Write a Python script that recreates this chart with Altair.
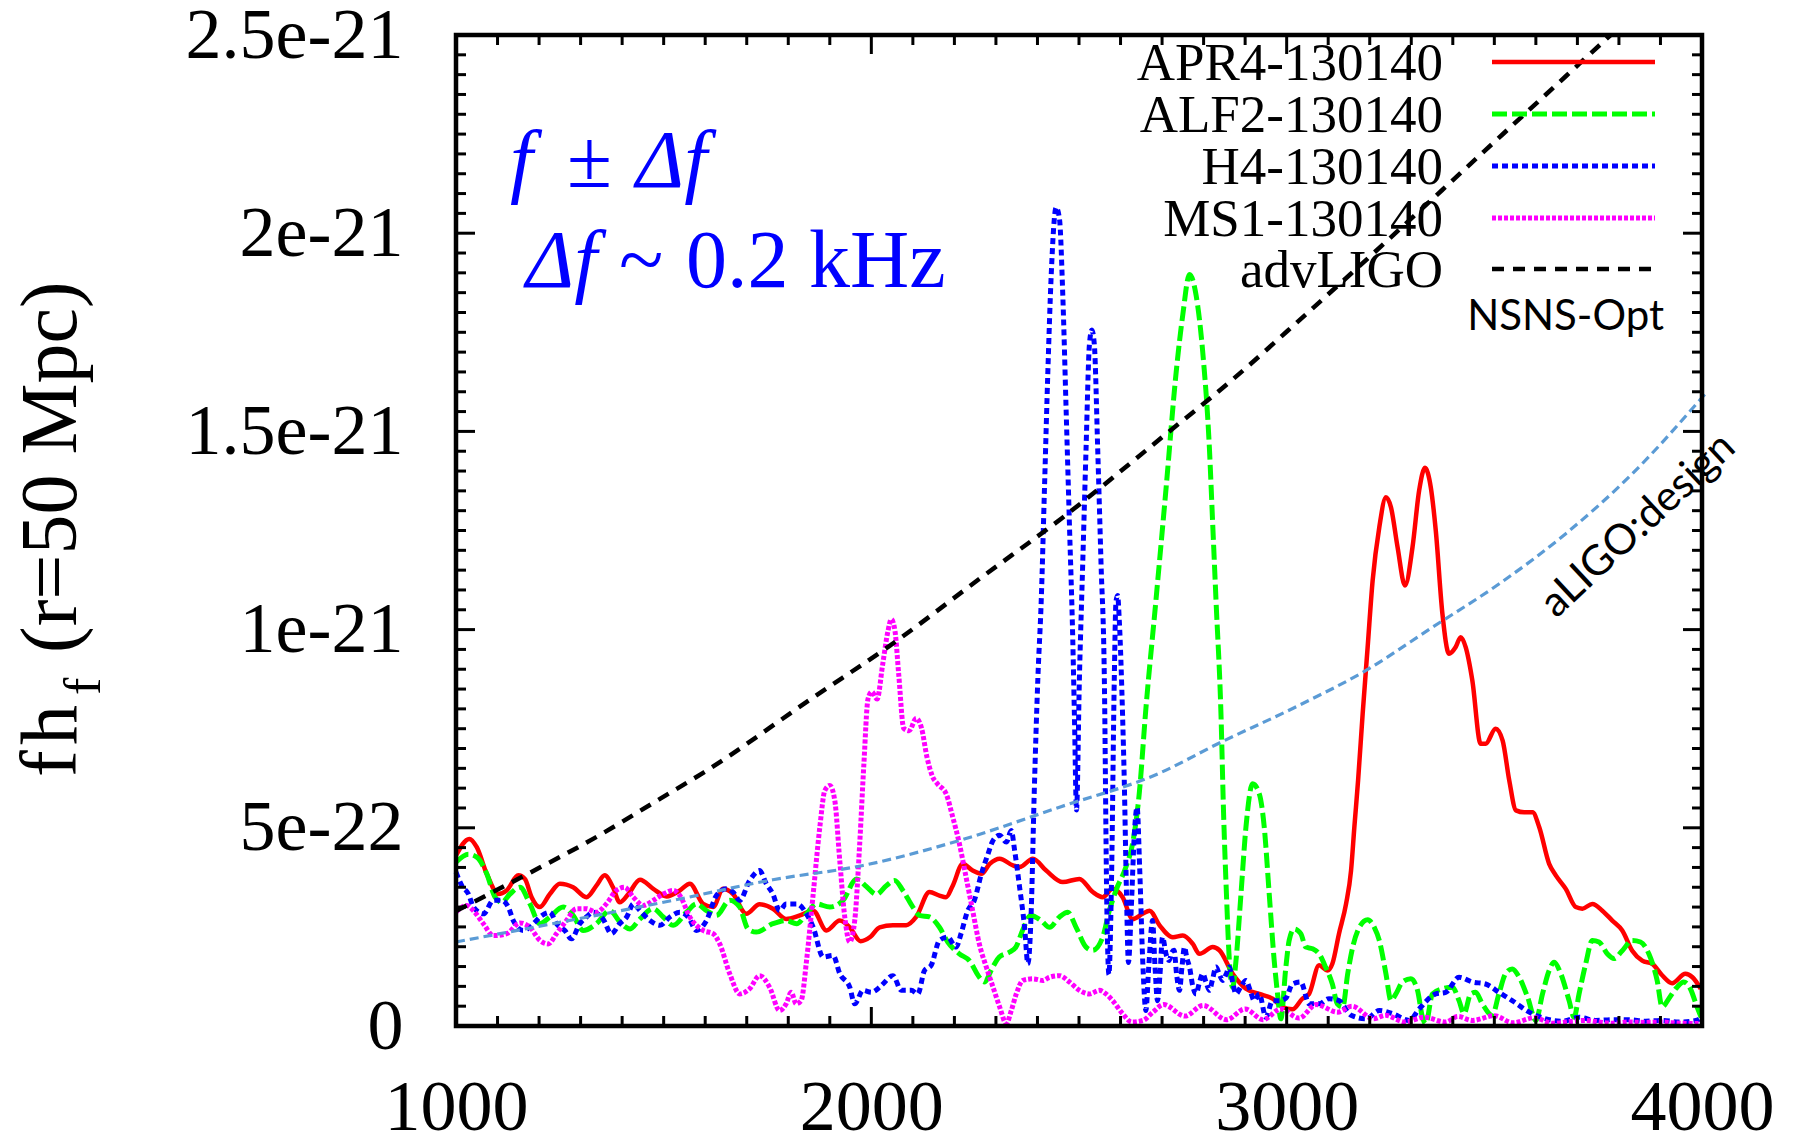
import altair as alt
import pandas as pd

# ---------------- data (strain values in units of 1e-22) ----------------
X_TICKS = [1000, 2000, 3000, 4000]
Y_TICKS = [0, 5, 10, 15, 20, 25]
Y_TICK_LABELS = ["0", "5e-22", "1e-21", "1.5e-21", "2e-21", "2.5e-21"]

APR4_F = [1000, 1032, 1050, 1074, 1102, 1122, 1150, 1166, 1182, 1202, 1226, 1250, 1282, 1314, 1338, 1358,
          1378, 1394, 1415, 1443, 1475, 1507, 1539, 1563, 1595, 1619, 1643, 1667, 1699, 1731, 1763, 1795,
          1828, 1860, 1892, 1924, 1948, 1974, 1998, 2020, 2052, 2084, 2108, 2140, 2164, 2180, 2196, 2220,
          2244, 2265, 2285, 2309, 2341, 2357, 2389, 2421, 2461, 2501, 2533, 2557, 2581, 2605, 2629, 2653,
          2670, 2694, 2726, 2750, 2774, 2790, 2822, 2838, 2870, 2902, 2934, 2966, 2990, 3014, 3038, 3054,
          3078, 3098, 3110, 3126, 3143, 3155, 3163, 3172, 3183, 3195, 3207, 3223, 3239, 3251, 3267, 3285,
          3303, 3319, 3333, 3347, 3359, 3375, 3391, 3407, 3419, 3431, 3447, 3467, 3479, 3503, 3520, 3536,
          3552, 3572, 3592, 3608, 3632, 3648, 3672, 3696, 3712, 3736, 3760, 3784, 3808, 3832, 3856, 3880,
          3904, 3928, 3960, 3977, 3997]
APR4_V = [4.30, 4.72, 4.51, 3.84, 3.33, 3.42, 3.80, 3.71, 3.25, 3.00, 3.33, 3.59, 3.50, 3.25, 3.54, 3.80,
          3.50, 3.12, 3.33, 3.69, 3.46, 3.27, 3.42, 3.59, 3.08, 3.00, 3.46, 3.33, 2.83, 3.07, 2.96, 2.70,
          2.79, 2.91, 2.41, 2.66, 2.49, 2.14, 2.25, 2.49, 2.54, 2.54, 2.75, 3.38, 3.29, 3.25, 3.54, 4.09,
          3.92, 3.84, 4.09, 4.22, 4.05, 4.01, 4.22, 3.92, 3.63, 3.71, 3.38, 3.25, 3.46, 3.25, 2.70, 2.83,
          2.91, 2.54, 2.24, 2.28, 2.07, 1.82, 1.99, 1.91, 1.32, 0.94, 0.81, 0.69, 0.48, 0.42, 0.69, 0.81,
          1.53, 1.40, 1.57, 2.33, 3.08, 3.92, 5.02, 6.20, 7.88, 9.56, 11.24, 12.58, 13.34, 13.09, 12.08, 11.11,
          12.08, 13.51, 14.08, 13.59, 12.50, 10.40, 9.39, 9.56, 9.81, 9.56, 8.72, 7.12, 7.12, 7.50, 7.20, 6.19,
          5.44, 5.39, 5.39, 5.02, 4.09, 3.80, 3.46, 3.00, 2.96, 3.08, 2.91, 2.66, 2.41, 1.90, 1.65, 1.57,
          1.28, 1.08, 1.32, 1.23, 0.94]

ALF2_F = [1000, 1030, 1050, 1074, 1094, 1110, 1130, 1154, 1178, 1202, 1226, 1258, 1282, 1306, 1338, 1370,
          1398, 1419, 1443, 1475, 1499, 1523, 1555, 1579, 1603, 1627, 1659, 1683, 1703, 1723, 1763, 1795,
          1820, 1844, 1868, 1900, 1932, 1964, 1988, 2012, 2036, 2056, 2076, 2100, 2116, 2140, 2164, 2184,
          2212, 2236, 2260, 2272, 2292, 2308, 2332, 2348, 2364, 2384, 2409, 2429, 2453, 2473, 2493, 2517,
          2533, 2557, 2573, 2589, 2613, 2629, 2645, 2661, 2685, 2710, 2734, 2750, 2766, 2782, 2798, 2814,
          2822, 2830, 2842, 2848, 2855, 2862, 2870, 2878, 2890, 2902, 2918, 2934, 2946, 2958, 2970, 2978,
          2986, 2998, 3006, 3018, 3034, 3046, 3062, 3078, 3094, 3110, 3122, 3135, 3147, 3159, 3175, 3195,
          3211, 3223, 3239, 3251, 3263, 3279, 3299, 3315, 3327, 3335, 3351, 3375, 3399, 3415, 3427, 3443,
          3455, 3471, 3495, 3511, 3527, 3543, 3560, 3580, 3600, 3616, 3632, 3644, 3660, 3680, 3692, 3704,
          3720, 3736, 3752, 3772, 3788, 3808, 3832, 3852, 3872, 3892, 3904, 3920, 3940, 3956, 3972, 3988,
          3998]
ALF2_V = [4.13, 4.33, 4.26, 3.84, 3.25, 3.12, 3.33, 3.50, 3.08, 2.58, 2.75, 3.00, 2.79, 2.41, 2.58, 2.91,
          2.58, 2.45, 2.70, 2.96, 2.75, 2.54, 2.87, 3.08, 2.91, 2.79, 3.17, 3.00, 2.45, 2.37, 2.58, 2.66,
          2.58, 2.83, 3.08, 3.00, 3.17, 3.71, 3.52, 3.32, 3.54, 3.67, 3.42, 3.00, 2.79, 2.75, 2.49, 2.12,
          1.82, 1.65, 1.23, 1.11, 1.48, 1.74, 1.86, 1.99, 2.41, 2.79, 2.66, 2.49, 2.75, 2.87, 2.49, 1.99,
          1.91, 2.24, 2.91, 3.42, 4.01, 4.60, 5.86, 8.00, 10.71, 13.61, 16.50, 17.95, 18.96, 18.43, 16.99, 14.57,
          12.64, 10.71, 7.81, 5.40, 3.33, 1.65, 0.98, 1.65, 3.33, 5.02, 6.11, 5.86, 5.02, 3.33, 1.65, 0.81,
          0.18, 1.48, 2.16, 2.45, 2.33, 1.99, 1.95, 1.82, 1.48, 1.06, 0.56, 0.48, 1.32, 1.99, 2.49, 2.68,
          2.49, 2.16, 1.32, 0.64, 0.81, 1.11, 1.19, 0.90, 0.22, 0.06, 0.81, 0.94, 0.98, 0.64, 0.31, 0.81,
          0.85, 0.56, 0.27, 0.81, 1.32, 1.44, 1.23, 0.73, 0.14, 0.81, 1.40, 1.61, 1.32, 0.64, 0.22, 0.81,
          1.57, 2.16, 2.12, 1.82, 1.70, 1.90, 2.16, 2.12, 1.82, 1.15, 0.48, 0.69, 0.98, 1.11, 0.94, 0.48,
          0.22]

H4_F = [1000, 1014, 1030, 1042, 1066, 1090, 1110, 1126, 1138, 1162, 1186, 1202, 1226, 1242, 1262, 1278,
        1298, 1314, 1330, 1354, 1374, 1394, 1411, 1427, 1443, 1467, 1491, 1515, 1539, 1559, 1579, 1603,
        1627, 1651, 1667, 1683, 1707, 1731, 1747, 1763, 1779, 1795, 1820, 1844, 1860, 1884, 1908, 1924,
        1948, 1960, 1980, 2000, 2020, 2028, 2052, 2072, 2096, 2112, 2128, 2144, 2164, 2184, 2204, 2216,
        2232, 2248, 2265, 2281, 2293, 2309, 2325, 2337, 2345, 2357, 2369, 2377, 2385, 2392, 2401, 2409,
        2417, 2425, 2433, 2445, 2453, 2461, 2469, 2477, 2485, 2489, 2494, 2501, 2509, 2517, 2525, 2531,
        2537, 2545, 2553, 2561, 2567, 2572, 2578, 2585, 2589, 2593, 2597, 2605, 2609, 2614, 2619, 2626,
        2633, 2640, 2646, 2654, 2661, 2668, 2677, 2683, 2689, 2695, 2701, 2710, 2717, 2723, 2729, 2735,
        2742, 2748, 2754, 2760, 2766, 2774, 2782, 2790, 2798, 2806, 2814, 2822, 2830, 2838, 2846, 2854,
        2862, 2870, 2878, 2890, 2902, 2912, 2922, 2934, 2950, 2966, 2982, 2998, 3014, 3034, 3054, 3078,
        3102, 3126, 3155, 3191, 3223, 3255, 3295, 3319, 3359, 3383, 3415, 3447, 3479, 3511, 3543, 3584,
        3624, 3664, 3704, 3744, 3784, 3824, 3864, 3904, 3945, 3985, 4000]
H4_V = [3.88, 3.54, 3.33, 3.00, 2.83, 3.17, 3.17, 3.00, 2.66, 2.41, 2.58, 2.75, 2.87, 2.58, 2.41, 2.20,
        2.58, 2.75, 2.87, 2.70, 2.33, 2.58, 2.75, 3.08, 2.91, 2.66, 2.54, 2.75, 2.87, 2.75, 2.41, 2.66,
        3.29, 3.46, 3.38, 3.17, 3.67, 3.92, 3.59, 3.33, 2.91, 3.08, 3.08, 2.83, 2.49, 1.74, 1.78, 1.32,
        0.98, 0.56, 0.90, 0.85, 0.98, 1.06, 1.27, 0.90, 0.90, 0.81, 1.40, 1.53, 2.16, 2.24, 1.99, 2.33,
        2.91, 3.17, 3.84, 4.34, 4.68, 4.81, 4.64, 4.93, 4.43, 3.50, 2.49, 1.57, 2.91, 5.80, 8.78, 10.71,
        13.61, 16.50, 18.92, 20.65, 20.36, 18.43, 15.54, 12.64, 9.75, 7.81, 5.45, 8.78, 11.68, 14.57, 17.18, 17.56,
        17.18, 14.57, 11.68, 8.78, 3.00, 1.30, 3.50, 8.78, 10.71, 10.86, 10.23, 7.81, 6.19, 3.50, 1.60, 3.00,
        4.80, 5.52, 4.00, 1.50, 0.39, 1.50, 2.66, 1.50, 0.64, 1.30, 2.24, 1.80, 1.65, 1.85, 1.91, 1.30,
        0.90, 1.50, 1.99, 1.70, 1.49, 1.00, 0.81, 1.10, 1.32, 1.10, 0.90, 1.20, 1.49, 1.30, 1.15, 1.30,
        1.49, 1.10, 0.81, 1.00, 1.15, 0.90, 0.64, 0.81, 0.22, 0.64, 0.64, 0.70, 1.06, 1.11, 0.56, 0.56,
        0.69, 0.64, 0.27, 0.18, 0.39, 0.31, 0.14, 0.43, 0.81, 0.85, 1.23, 1.11, 1.06, 0.85, 0.64, 0.35,
        0.18, 0.12, 0.22, 0.14, 0.16, 0.16, 0.12, 0.14, 0.10, 0.14, 0.22]

MS1_F = [1000, 1026, 1042, 1066, 1090, 1122, 1154, 1178, 1202, 1222, 1242, 1266, 1290, 1314, 1338, 1362,
         1386, 1406, 1427, 1451, 1475, 1499, 1523, 1539, 1563, 1595, 1619, 1635, 1659, 1683, 1707, 1731,
         1755, 1779, 1795, 1807, 1819, 1831, 1844, 1860, 1876, 1888, 1900, 1912, 1924, 1936, 1948, 1960,
         1972, 1982, 1992, 2001, 2014, 2027, 2040, 2048, 2057, 2066, 2078, 2091, 2108, 2121, 2134, 2147,
         2160, 2180, 2196, 2212, 2228, 2244, 2260, 2277, 2293, 2309, 2325, 2337, 2349, 2365, 2389, 2413,
         2429, 2453, 2477, 2501, 2525, 2549, 2565, 2581, 2605, 2627, 2654, 2678, 2704, 2755, 2799, 2855,
         2900, 2943, 2986, 3030, 3071, 3123, 3157, 3209, 3238, 3285, 3331, 3383, 3412, 3447, 3500, 3545,
         3597, 3640, 3688, 3720, 3752, 3784, 3824, 3864, 3904, 3945, 4000]
MS1_V = [2.87, 3.04, 2.91, 2.58, 2.28, 2.33, 2.60, 2.49, 2.16, 2.07, 2.33, 2.66, 2.96, 2.96, 2.87, 3.08,
         3.42, 3.50, 3.25, 3.04, 3.17, 3.33, 3.42, 3.29, 2.75, 2.41, 2.33, 2.07, 1.32, 0.81, 0.94, 1.27,
         0.98, 0.39, 0.56, 0.85, 0.56, 0.64, 1.65, 3.33, 5.02, 5.94, 6.07, 5.69, 4.17, 2.75, 2.12, 2.66,
         4.60, 6.60, 8.25, 8.43, 8.25, 9.10, 9.96, 10.26, 9.96, 8.86, 7.51, 7.45, 7.76, 7.51, 6.78, 6.30,
         6.10, 5.86, 5.27, 4.60, 3.76, 2.91, 2.07, 1.48, 0.98, 0.48, 0.06, 0.39, 0.81, 1.15, 1.19, 1.15,
         1.23, 1.27, 1.11, 0.90, 0.81, 0.90, 0.81, 0.64, 0.31, 0.10, 0.14, 0.35, 0.54, 0.25, 0.52, 0.16,
         0.43, 0.16, 0.43, 0.20, 0.54, 0.35, 0.50, 0.18, 0.27, 0.10, 0.22, 0.10, 0.24, 0.14, 0.26, 0.08,
         0.21, 0.07, 0.12, 0.14, 0.10, 0.07, 0.10, 0.09, 0.10, 0.07, 0.06]

ADVLIGO_F = [1000, 1166, 1330, 1491, 1597, 1863, 2044, 2268, 2461, 2701, 2870, 3046, 3154, 3478, 3780]
ADVLIGO_V = [2.90, 3.80, 4.72, 5.73, 6.40, 8.31, 9.59, 11.34, 12.83, 14.86, 16.31, 17.95, 18.97, 22.09, 25.0]

ALIGO_F = [1000, 1282, 1523, 1763, 1980, 2212, 2453, 2694, 2838, 3030, 3191, 3351, 3511, 3672, 3832, 4012]
ALIGO_V = [2.12, 2.68, 3.17, 3.69, 4.05, 4.68, 5.52, 6.38, 7.14, 8.09, 8.97, 10.06, 11.15, 12.42, 13.93, 16.0]

LEGEND_NAMES = ["APR4-130140", "ALF2-130140", "H4-130140", "MS1-130140", "advLIGO"]

# ---------------- layout / style ----------------
W, H = 1246, 991
SERIF = "Liberation Serif"
SANS = "Lato"

xs = alt.Scale(domain=[1000, 4000], nice=False, zero=False)
ys = alt.Scale(domain=[0, 25], nice=False, zero=False)

y_label_expr = " : ".join(
    [f"datum.value == {v} ? '{l}'" for v, l in zip(Y_TICKS, Y_TICK_LABELS)]
) + " : ''"

X_AXIS = alt.Axis(values=X_TICKS, format="d", ticks=False, domain=False, grid=False,
                  labelFont=SERIF, labelFontSize=72, labelPadding=46, labelFlush=False,
                  labelOverlap=False, labelColor="black", labelLimit=500, title=None)
Y_AXIS = alt.Axis(values=Y_TICKS, labelExpr=y_label_expr, ticks=False, domain=False, grid=False,
                  labelFont=SERIF, labelFontSize=72, labelPadding=53, labelFlush=False,
                  labelOverlap=False, labelColor="black", labelLimit=500, title=None)


def series_layer(fs, vs, color, dash, width):
    df = pd.DataFrame({"f": fs, "v": vs})
    kw = dict(color=color, strokeWidth=width, interpolate="monotone", clip=False)
    if dash:
        kw["strokeDash"] = dash
    return alt.Chart(df).mark_line(**kw).encode(
        x=alt.X("f:Q", scale=xs, axis=X_AXIS),
        y=alt.Y("v:Q", scale=ys, axis=Y_AXIS),
    )


STYLES = {
    "APR4": ("#ff0000", None, 4.5),
    "ALF2": ("#00ff00", [15, 5], 5),
    "H4": ("#0000ff", [6, 4], 5),
    "MS1": ("#ff00ff", [4, 2], 5),
    "adv": ("#000000", [12, 9], 4.5),
    "aligo": ("#5b9bd5", [9, 5], 3.2),
}

layers = [
    series_layer(APR4_F, APR4_V, *STYLES["APR4"]),
    series_layer(ALF2_F, ALF2_V, *STYLES["ALF2"]),
    series_layer(H4_F, H4_V, *STYLES["H4"]),
    series_layer(MS1_F, MS1_V, *STYLES["MS1"]),
    series_layer(ADVLIGO_F, ADVLIGO_V, *STYLES["adv"]),
    series_layer(ALIGO_F, ALIGO_V, *STYLES["aligo"]),
]

# ---------------- inward frame ticks ----------------
X_MINOR = [t for t in range(1100, 4000, 100) if t not in X_TICKS]
X_MAJOR = [2000, 3000]
Y_MINOR = [i / 2 for i in range(1, 50) if i % 10 != 0]
Y_MAJOR = [5, 10, 15, 20]


def xticks(vals, length):
    df = pd.DataFrame({"t": vals})
    base = alt.Chart(df).mark_rule(color="black", strokeWidth=3)
    bottom = base.encode(x=alt.X("t:Q", scale=xs, axis=X_AXIS), y=alt.value(H), y2=alt.value(H - length))
    top = base.encode(x=alt.X("t:Q", scale=xs, axis=X_AXIS), y=alt.value(0), y2=alt.value(length))
    return [bottom, top]


def yticks(vals, length):
    df = pd.DataFrame({"t": vals})
    base = alt.Chart(df).mark_rule(color="black", strokeWidth=3)
    left = base.encode(y=alt.Y("t:Q", scale=ys, axis=Y_AXIS), x=alt.value(0), x2=alt.value(length))
    right = base.encode(y=alt.Y("t:Q", scale=ys, axis=Y_AXIS), x=alt.value(W), x2=alt.value(W - length))
    return [left, right]


tick_layers = xticks(X_MINOR, 10) + xticks(X_MAJOR, 19) + yticks(Y_MINOR, 10) + yticks(Y_MAJOR, 19)

frame = alt.Chart(pd.DataFrame({"k": [0]})).mark_rect(
    fillOpacity=0, stroke="black", strokeWidth=4.5
).encode(x=alt.value(0), x2=alt.value(W), y=alt.value(0), y2=alt.value(H))


# ---------------- text helpers ----------------
def text(label, x, y, size, font=SERIF, color="black", align="left", baseline="alphabetic",
         angle=0, style="normal"):
    df = pd.DataFrame({"label": [label]})
    return alt.Chart(df).mark_text(
        font=font, fontSize=size, color=color, align=align, baseline=baseline,
        angle=angle, fontStyle=style, limit=0,
    ).encode(text="label:N", x=alt.value(x), y=alt.value(y))


def sample(y, color, dash, width):
    df = pd.DataFrame({"k": [0]})
    kw = dict(color=color, strokeWidth=width)
    if dash:
        kw["strokeDash"] = dash
    return alt.Chart(df).mark_rule(**kw).encode(
        x=alt.value(1036), x2=alt.value(1199), y=alt.value(y))


legend_layers = []
legend_y_text = [45, 97, 149, 201, 252]
legend_y_line = [27, 79, 131, 183, 234]
for name, yt, yl, key in zip(LEGEND_NAMES, legend_y_text, legend_y_line,
                             ["APR4", "ALF2", "H4", "MS1", "adv"]):
    legend_layers.append(text(name, 987, yt, 53, align="right"))
    c, d, w = STYLES[key]
    legend_layers.append(sample(yl, c, d, w))

annot_layers = [
    text("NSNS-Opt", 1208, 295, 42, font=SANS, align="right"),
    text("aLIGO:design", 1182, 490, 42, font=SANS, align="center", baseline="middle", angle=317),
    # f ± Δf
    text("f", 54, 152, 82, color="#0000ff", style="italic"),
    text("±", 111, 152, 82, color="#0000ff"),
    text("Δf", 180, 152, 82, color="#0000ff", style="italic"),
    # Δf ~ 0.2 kHz
    text("Δf", 70, 252, 82, color="#0000ff", style="italic"),
    text("~", 163, 252, 82, color="#0000ff"),
    text("0.2 kHz", 230, 252, 82, color="#0000ff"),
    # y axis title: f h_f (r=50 Mpc)
    text("f", -380, 742, 80, angle=270),
    text("h", -380, 710, 80, angle=270),
    text("f", -356, 660, 52, angle=270),
    text("(r=50 Mpc)", -380, 618, 80, angle=270),
]

chart = alt.layer(*layers, *tick_layers, frame, *legend_layers, *annot_layers).properties(
    width=W, height=H,
    autosize=alt.AutoSizeParams(type="none"),
    padding={"left": 456, "top": 35, "right": 102, "bottom": 112},
).configure_view(stroke=None).configure(background="white")

chart.save("out.html", embed_options={"renderer": "svg", "actions": False})
